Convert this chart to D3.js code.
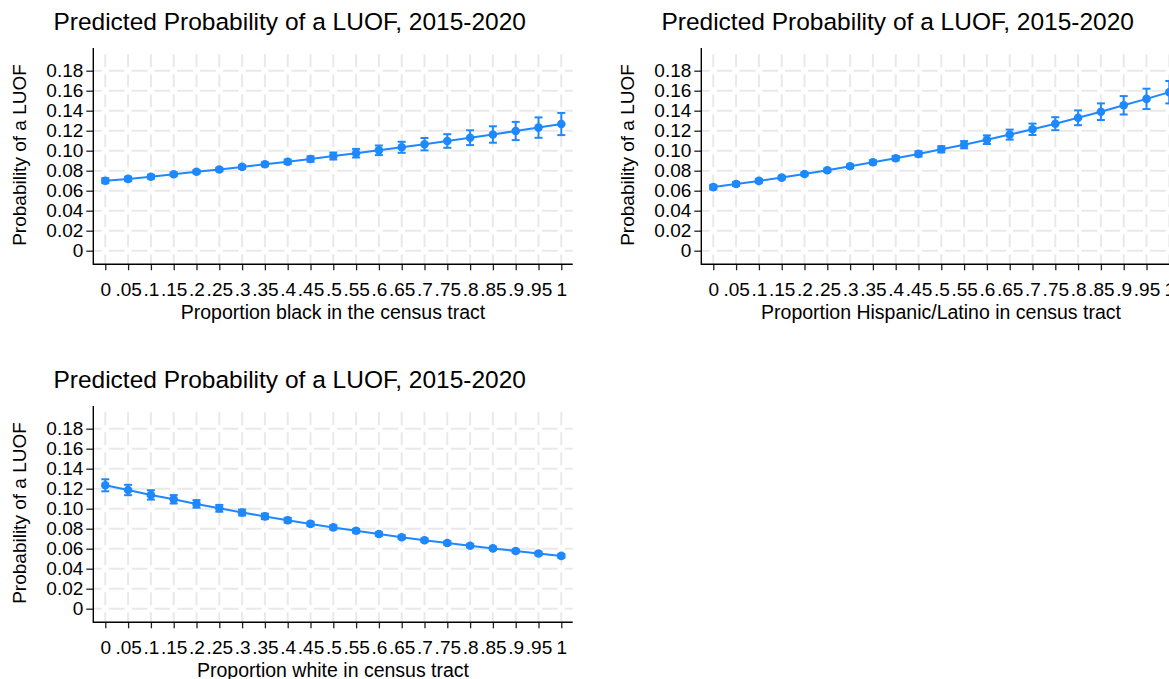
<!DOCTYPE html>
<html>
<head>
<meta charset="utf-8">
<script src="https://cdn.jsdelivr.net/npm/d3@7"></script>
<style>
  html, body { margin: 0; padding: 0; background: #ffffff; }
  svg { display: block; font-family: "Liberation Sans", Arial, Helvetica, sans-serif; }
</style>
</head>
<body>
<svg id="chart" width="1169" height="679"></svg>
<script>
// Margins plotted at each proportion of the population group
const xLevels = [0, 0.05, 0.1, 0.15, 0.2, 0.25, 0.3, 0.35, 0.4, 0.45, 0.5,
                 0.55, 0.6, 0.65, 0.7, 0.75, 0.8, 0.85, 0.9, 0.95, 1];
const xTickLabels = ["0", ".05", ".1", ".15", ".2", ".25", ".3", ".35", ".4", ".45", ".5",
                     ".55", ".6", ".65", ".7", ".75", ".8", ".85", ".9", ".95", "1"];
const yTicks = [0, 0.02, 0.04, 0.06, 0.08, 0.10, 0.12, 0.14, 0.16, 0.18];
const yTickLabels = ["0", "0.02", "0.04", "0.06", "0.08", "0.10", "0.12", "0.14", "0.16", "0.18"];

const chartTitle = "Predicted Probability of a LUOF, 2015-2020";
const yTitle = "Probability of a LUOF";
const xTitles = ["Proportion black in the census tract",
                 "Proportion Hispanic/Latino in census tract",
                 "Proportion white in census tract"];

// Proportion black
const blackEst = [0.0700, 0.0718, 0.0740, 0.0765, 0.0790, 0.0812, 0.0838, 0.0864, 0.0889, 0.0917, 0.0947,
                  0.0975, 0.1004, 0.1034, 0.1065, 0.1097, 0.1130, 0.1162, 0.1197, 0.1231, 0.1267];
const blackLo  = [0.0675, 0.0696, 0.0721, 0.0748, 0.0774, 0.0796, 0.0821, 0.0845, 0.0867, 0.0890, 0.0912,
                  0.0932, 0.0956, 0.0979, 0.1003, 0.1029, 0.1056, 0.1080, 0.1106, 0.1129, 0.1156];
const blackHi  = [0.0725, 0.0740, 0.0759, 0.0782, 0.0806, 0.0828, 0.0855, 0.0883, 0.0911, 0.0944, 0.0982,
                  0.1018, 0.1052, 0.1089, 0.1127, 0.1165, 0.1204, 0.1244, 0.1288, 0.1333, 0.1378];

// Proportion Hispanic/Latino
const hispEst = [0.0636, 0.0667, 0.0698, 0.0731, 0.0767, 0.0804, 0.0844, 0.0884, 0.0925, 0.0968, 0.1014,
                 0.1060, 0.1110, 0.1161, 0.1214, 0.1270, 0.1329, 0.1390, 0.1454, 0.1518, 0.1585];
const hispLo  = [0.0614, 0.0647, 0.0680, 0.0714, 0.0751, 0.0788, 0.0827, 0.0865, 0.0903, 0.0942, 0.0983,
                 0.1024, 0.1067, 0.1111, 0.1157, 0.1205, 0.1255, 0.1307, 0.1362, 0.1416, 0.1473];
const hispHi  = [0.0658, 0.0687, 0.0716, 0.0748, 0.0783, 0.0820, 0.0861, 0.0903, 0.0947, 0.0994, 0.1045,
                 0.1096, 0.1153, 0.1211, 0.1271, 0.1335, 0.1403, 0.1473, 0.1546, 0.1620, 0.1697];

// Proportion white
const whiteEst = [0.1234, 0.1187, 0.1138, 0.1094, 0.1048, 0.1004, 0.0962, 0.0923, 0.0885, 0.0848, 0.0813,
                  0.0779, 0.0747, 0.0715, 0.0685, 0.0657, 0.0630, 0.0603, 0.0577, 0.0552, 0.0528];
const whiteLo  = [0.1174, 0.1135, 0.1091, 0.1052, 0.1010, 0.0970, 0.0932, 0.0896, 0.0861, 0.0826, 0.0793,
                  0.0760, 0.0729, 0.0698, 0.0669, 0.0641, 0.0614, 0.0587, 0.0561, 0.0535, 0.0510];
const whiteHi  = [0.1294, 0.1239, 0.1185, 0.1136, 0.1086, 0.1038, 0.0992, 0.0950, 0.0909, 0.0870, 0.0833,
                  0.0798, 0.0765, 0.0732, 0.0701, 0.0673, 0.0646, 0.0619, 0.0593, 0.0569, 0.0546];

const panels = [
  { est: blackEst, lo: blackLo, hi: blackHi, xTitle: xTitles[0], dx: 0,   dy: 0 },
  { est: hispEst,  lo: hispLo,  hi: hispHi,  xTitle: xTitles[1], dx: 608, dy: 0 },
  { est: whiteEst, lo: whiteLo, hi: whiteHi, xTitle: xTitles[2], dx: 0,   dy: 358 }
];

// Panel geometry (local coordinates)
const plotLeft = 93.3, plotRight = 572.7, plotTop = 48, plotBottom = 264.3;
const x = d3.scaleLinear().domain([0, 1]).range([105.3, 561.3]);
const y = d3.scaleLinear().domain([0, 0.18]).range([250.7, 70.7]);

const blue = "#1e88ff";
const gridColor = "#e9e9e9";
const fontSize = 19;

const svg = d3.select("#chart");
svg.append("rect").attr("width", 1169).attr("height", 679).attr("fill", "#fff");

panels.forEach(p => {
  const g = svg.append("g").attr("transform", `translate(${p.dx},${p.dy})`);

  // Grid: dashes with the breaks centred on each crossing
  const gap = 7;
  const pv = y(0) - y(0.02);           // vertical spacing between horizontal lines
  const ph = x(0.05) - x(0);           // horizontal spacing between vertical lines
  const offV = ((pv - gap) + gap / 2 - (plotBottom - y(0))) % pv + pv;
  const offH = ((ph - gap) + gap / 2 - (x(0) - plotLeft)) % ph + ph;

  g.append("g").selectAll("line").data(xLevels).join("line")
    .attr("x1", d => x(d)).attr("x2", d => x(d))
    .attr("y1", plotBottom).attr("y2", plotTop)
    .attr("stroke", gridColor).attr("stroke-width", 2)
    .attr("stroke-dasharray", `${pv - gap} ${gap}`)
    .attr("stroke-dashoffset", offV);

  g.append("g").selectAll("line").data(yTicks).join("line")
    .attr("x1", plotLeft).attr("x2", plotRight)
    .attr("y1", d => y(d)).attr("y2", d => y(d))
    .attr("stroke", gridColor).attr("stroke-width", 2)
    .attr("stroke-dasharray", `${ph - gap} ${gap}`)
    .attr("stroke-dashoffset", offH);

  // Axes
  const yAxis = d3.axisLeft(y).tickValues(yTicks)
    .tickFormat((d, i) => yTickLabels[i]).tickSizeInner(7).tickSizeOuter(0).tickPadding(3);
  const ya = g.append("g").attr("transform", `translate(${plotLeft},0)`).call(yAxis);
  ya.select(".domain").remove();

  const xAxis = d3.axisBottom(x).tickValues(xLevels)
    .tickFormat((d, i) => xTickLabels[i]).tickSizeInner(6).tickSizeOuter(0).tickPadding(12);
  const xa = g.append("g").attr("transform", `translate(0,${plotBottom})`).call(xAxis);
  xa.select(".domain").remove();

  [ya, xa].forEach(a => {
    a.selectAll(".tick line").attr("stroke", "#222").attr("stroke-width", 1.3);
    a.selectAll(".tick text").attr("fill", "#000").style("font-size", fontSize + "px")
      .attr("font-family", null);
    a.attr("font-family", null).attr("font-size", null);
  });

  g.append("line").attr("x1", plotLeft).attr("x2", plotLeft)
    .attr("y1", plotTop).attr("y2", plotBottom + 0.6)
    .attr("stroke", "#000").attr("stroke-width", 1.4);
  g.append("line").attr("x1", plotLeft).attr("x2", plotRight)
    .attr("y1", plotBottom).attr("y2", plotBottom)
    .attr("stroke", "#000").attr("stroke-width", 1.4);

  // Titles
  g.append("text").attr("x", 289.7).attr("y", 30).attr("text-anchor", "middle")
    .style("font-size", "24.5px").attr("fill", "#000").text(chartTitle);
  g.append("text").attr("transform", `translate(25.5,155) rotate(-90)`)
    .attr("text-anchor", "middle").style("font-size", fontSize + "px").attr("fill", "#000")
    .text(yTitle);
  g.append("text").attr("x", (plotLeft + plotRight) / 2).attr("y", 318.5)
    .attr("text-anchor", "middle").style("font-size", "19.5px").attr("fill", "#000")
    .text(p.xTitle);

  // Confidence intervals with caps
  const capW = 4;
  const ci = g.append("g").attr("stroke", blue).attr("stroke-width", 2).attr("fill", "none");
  xLevels.forEach((xv, i) => {
    ci.append("line").attr("x1", x(xv)).attr("x2", x(xv))
      .attr("y1", y(p.lo[i])).attr("y2", y(p.hi[i]));
    ci.append("line").attr("x1", x(xv) - capW).attr("x2", x(xv) + capW)
      .attr("y1", y(p.lo[i])).attr("y2", y(p.lo[i]));
    ci.append("line").attr("x1", x(xv) - capW).attr("x2", x(xv) + capW)
      .attr("y1", y(p.hi[i])).attr("y2", y(p.hi[i]));
  });

  // Connected point estimates
  const line = d3.line().x((d, i) => x(xLevels[i])).y(d => y(d));
  g.append("path").datum(p.est).attr("d", line)
    .attr("fill", "none").attr("stroke", blue).attr("stroke-width", 2);
  g.append("g").selectAll("circle").data(p.est).join("circle")
    .attr("cx", (d, i) => x(xLevels[i])).attr("cy", d => y(d)).attr("r", 4.3)
    .attr("fill", blue);
});
</script>
</body>
</html>
